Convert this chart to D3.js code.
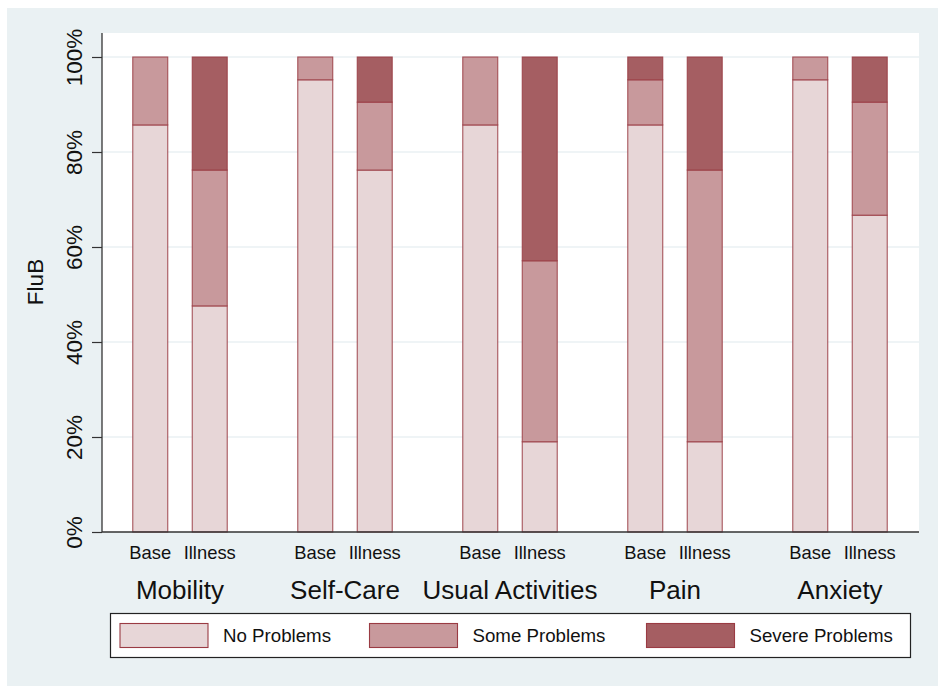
<!DOCTYPE html>
<html><head><meta charset="utf-8">
<script src="https://cdn.jsdelivr.net/npm/d3@7"></script>
<style>body{margin:0;background:#fff}svg{display:block;font-family:"Liberation Sans",Arial,sans-serif}</style>
</head><body>
<svg id="c" width="938" height="686"></svg>
<script>
const dimensions = ["Mobility","Self-Care","Usual Activities","Pain","Anxiety"];
const periods = ["Base","Illness"];
const seriesNames = ["No Problems","Some Problems","Severe Problems"];
// percentages per dimension, [Base, Illness]
const noProblems     = [[85.7,47.6],[95.2,76.2],[85.7,19.0],[85.7,19.0],[95.2,66.7]];
const someProblems   = [[14.3,28.6],[4.8,14.3],[14.3,38.1],[9.5,57.2],[4.8,23.8]];
const severeProblems = [[0,23.8],[0,9.5],[0,42.9],[4.8,23.8],[0,9.5]];
const yTicks = [0,20,40,60,80,100];
const colors = ["#e7d6d7","#c8999c","#a55e62"];

const svg = d3.select("#c");
svg.append("rect").attr("x",7).attr("y",8).attr("width",931).attr("height",678).attr("fill","#eaf1f3");
const L=102,R=919,T=33,B=532;
svg.append("rect").attr("x",L).attr("y",T).attr("width",R-L).attr("height",B-T).attr("fill","#fff");

const y = d3.scaleLinear().domain([0,100]).range([B,57]);
const x0 = d3.scaleBand().domain(dimensions).range([97.5,922.5]);
const x1 = d3.scaleBand().domain(periods).range([0,x0.bandwidth()]).paddingInner(0.412).paddingOuter(0.593);

// grid
svg.append("g").selectAll("line").data(yTicks.filter(d=>d>0)).join("line")
  .attr("x1",L).attr("x2",R).attr("y1",d=>y(d)).attr("y2",d=>y(d))
  .attr("stroke","#eaf1f3").attr("stroke-width",1.5);

// stacked data
const rows=[];
dimensions.forEach((dim,i)=>periods.forEach((p,j)=>{
  const vals=[noProblems[i][j],someProblems[i][j],severeProblems[i][j]];
  let acc=0;
  vals.forEach((v,k)=>{ if(v>0){rows.push({dim,p,k,y0:acc,y1:acc+v});} acc+=v; });
}));
svg.append("g").selectAll("rect").data(rows).join("rect")
  .attr("x",d=>x0(d.dim)+x1(d.p))
  .attr("width",x1.bandwidth())
  .attr("y",d=>y(Math.min(100,d.y1)))
  .attr("height",d=>y(d.y0)-y(Math.min(100,d.y1)))
  .attr("fill",d=>colors[d.k])
  .attr("stroke","#9a3b43").attr("stroke-width",1.1).attr("stroke-opacity",0.85);

// y axis
const yAxis = d3.axisLeft(y).tickValues(yTicks).tickFormat(d=>d+"%").tickSize(10).tickPadding(6);
const ga = svg.append("g").attr("transform",`translate(${L},0)`).call(yAxis);
ga.select(".domain").attr("d",`M0,${T}V${B}`).attr("stroke","#333").attr("stroke-width",1.3);
ga.selectAll(".tick line").attr("stroke","#333").attr("stroke-width",1.2);
ga.selectAll(".tick text").attr("font-size",22.5).attr("fill","#111")
  .attr("transform","rotate(-90)").attr("x",0).attr("y",-20).attr("dy","0").attr("text-anchor","middle")
  .attr("font-family","Liberation Sans, Arial, sans-serif");
// x axis line
svg.append("line").attr("x1",L).attr("x2",R).attr("y1",B).attr("y2",B).attr("stroke","#333").attr("stroke-width",1.3);

// axis title
svg.append("text").attr("transform","translate(43,282) rotate(-90)").attr("text-anchor","middle")
  .attr("font-size",22.5).attr("fill","#111").text("FluB");

// x labels
const gx = svg.append("g");
dimensions.forEach(dim=>{
  periods.forEach(p=>{
    gx.append("text").attr("x",x0(dim)+x1(p)+x1.bandwidth()/2).attr("y",559)
      .attr("text-anchor","middle").attr("font-size",18.4).attr("fill","#111").text(p);
  });
  gx.append("text").attr("x",x0(dim)+x0.bandwidth()/2).attr("y",599)
    .attr("text-anchor","middle").attr("font-size",26).attr("fill","#111").text(dim);
});

// legend
const lg = svg.append("g");
lg.append("rect").attr("x",110.5).attr("y",613.5).attr("width",800).attr("height",44)
  .attr("fill","#fff").attr("stroke","#222").attr("stroke-width",1.2);
const swX=[120,369.5,646.5];
seriesNames.forEach((s,i)=>{
  lg.append("rect").attr("x",swX[i]).attr("y",623.5).attr("width",88).attr("height",24)
    .attr("fill",colors[i]).attr("stroke","#9a3b43").attr("stroke-width",1.1);
  lg.append("text").attr("x",swX[i]+103).attr("y",642).attr("font-size",18.7).attr("fill","#111").text(s);
});
</script>
</body></html>
